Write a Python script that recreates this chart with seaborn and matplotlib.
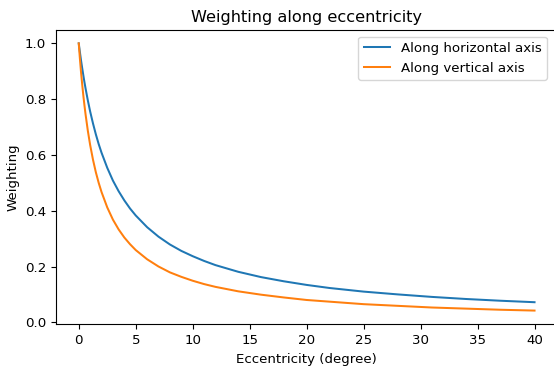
import matplotlib
matplotlib.use("Agg")
import matplotlib.pyplot as plt
import seaborn as sns
import pandas as pd

ecc = [0, 0.1, 0.2, 0.3, 0.4, 0.5, 0.6, 0.8, 1.0, 1.25, 1.5, 1.75, 2, 2.5, 3, 3.5, 4,
       4.5, 5, 6, 7, 8, 9, 10, 11, 12, 13, 14, 16, 18, 20, 22, 25, 28, 31, 34, 37, 40]
w_horizontal = [1.0, 0.969, 0.939, 0.912, 0.886, 0.861, 0.838, 0.795, 0.756, 0.713,
                0.674, 0.639, 0.608, 0.554, 0.508, 0.470, 0.437, 0.408, 0.383, 0.341,
                0.307, 0.279, 0.256, 0.237, 0.220, 0.205, 0.193, 0.181, 0.162, 0.147,
                0.134, 0.123, 0.110, 0.100, 0.091, 0.0835, 0.0773, 0.072]
w_vertical = [1.0, 0.946, 0.897, 0.854, 0.814, 0.778, 0.745, 0.686, 0.636, 0.583,
              0.538, 0.500, 0.467, 0.412, 0.368, 0.333, 0.304, 0.280, 0.259, 0.226,
              0.200, 0.179, 0.163, 0.149, 0.137, 0.127, 0.119, 0.111, 0.099, 0.089,
              0.080, 0.074, 0.065, 0.059, 0.053, 0.049, 0.045, 0.042]
labels = ["Along horizontal axis", "Along vertical axis"]
colors = ["#1f77b4", "#ff7f0e"]

plt.rcParams["font.size"] = 9.6
plt.rcParams["font.family"] = ["DejaVu Sans"]

fig = plt.figure(figsize=(5.54, 3.69), dpi=100)
ax = fig.add_axes([0.101, 0.1206, 0.905, 0.7981])

df_h = pd.DataFrame({"x": ecc, "y": w_horizontal})
df_v = pd.DataFrame({"x": ecc, "y": w_vertical})
sns.lineplot(data=df_h, x="x", y="y", ax=ax, color=colors[0], label=labels[0], linewidth=1.45)
sns.lineplot(data=df_v, x="x", y="y", ax=ax, color=colors[1], label=labels[1], linewidth=1.45)

ax.set_title("Weighting along eccentricity", fontsize=11.6)
ax.set_xlabel("Eccentricity (degree)")
ax.set_ylabel("Weighting")
ax.set_xticks([0, 5, 10, 15, 20, 25, 30, 35, 40])
ax.set_yticks([0.0, 0.2, 0.4, 0.6, 0.8, 1.0])
ax.set_xlim(-2, 42)
ax.set_ylim(-0.0079, 1.0479)
ax.legend(loc="upper right", bbox_to_anchor=(0.993, 1.0))

fig.savefig("out.png", dpi=100)
